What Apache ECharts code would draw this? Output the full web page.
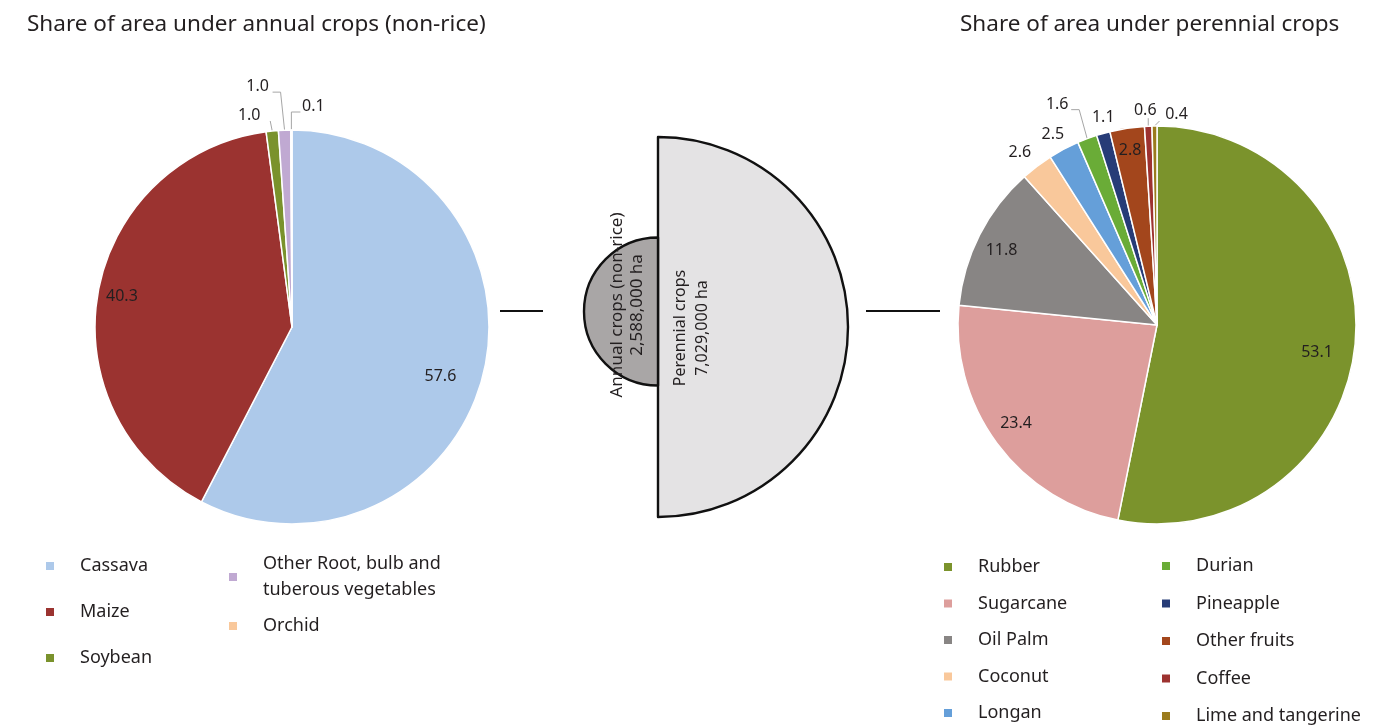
<!DOCTYPE html>
<html><head><meta charset="utf-8">
<script src="https://cdn.jsdelivr.net/npm/echarts@6/dist/echarts.min.js"></script>
<style>html,body{margin:0;padding:0;background:#fff}#c{width:1392px;height:726px}</style>
</head><body><div id="c"></div>
<script>
// ---- data ----
const annualNames = ['Cassava', 'Maize', 'Soybean', 'Other Root, bulb and tuberous vegetables', 'Orchid'];
const annualValues = [57.6, 40.3, 1.0, 1.0, 0.1];
const perennialNames = ['Rubber', 'Sugarcane', 'Oil Palm', 'Coconut', 'Longan', 'Durian', 'Pineapple', 'Other fruits', 'Coffee', 'Lime and tangerine'];
const perennialValues = [53.1, 23.4, 11.8, 2.6, 2.5, 1.6, 1.1, 2.8, 0.6, 0.4];
const totalLabels = ['Annual crops (non-rice)', 'Perennial crops'];
const totalAreas = ['2,588,000 ha', '7,029,000 ha'];
const titles = ['Share of area under annual crops (non-rice)', 'Share of area under perennial crops'];

// ---- styles ----
const annualColors = ['#adc9ea', '#9b3330', '#7a922c', '#c0a9d2', '#f9c89b'];
const perennialColors = ['#7b932c', '#dd9e9c', '#888584', '#f9c89b', '#659fd9', '#6aac37', '#273c77', '#a3461c', '#9d3230', '#9b7b1d'];
const FONT = 'Noto Sans';
const TXT = '#231f20';
// label placement relative to the slice's outer edge point; leader = guide-line shape relative to it
const annualLabelPos = [
  { off: [-43, 3] },
  { off: [24, 3] },
  { off: [-23, -16], leader: [[-2, -10], [0, 0]] },
  { off: [-27, -44], leader: [[-12, -38], [-4, -38], [0, 0]] },
  { off: [22, -24], leader: [[9, -18], [0, -18], [0, 0]] }];
const perennialLabelPos = [
  { off: [-38, 8] },
  { off: [19, -20] },
  { off: [22, 16] },
  { off: [-17, -14] },
  { off: [-11, -15] },
  { off: [-30, -34], leader: [[-16, -29], [-8, -29], [0, 0]] },
  { off: [0, -16] },
  { off: [3, 22] },
  { off: [-3, -16], leader: [[0, -8], [0, 0]] },
  { off: [22, -12], leader: [[5, -5], [0, 0]] }];

function pieSeries(names, values, colors, pos, center, R) {
  return {
    type: 'pie', center: center, radius: [0, R], startAngle: 90, clockwise: true,
    silent: true, animation: false, avoidLabelOverlap: false,
    itemStyle: { borderColor: '#fff', borderWidth: 1.5 },
    label: { show: true, position: 'outside', fontFamily: FONT, fontSize: 16, color: TXT,
      formatter: p => p.value.toFixed(1) },
    labelLine: { show: true, length: 10, length2: 4, lineStyle: { color: '#a6a6a6', width: 1 } },
    labelLayout: function (p) {
      const cfg = pos[p.dataIndex];
      if (!cfg || !p.labelLinePoints) return {};
      const e = p.labelLinePoints[0];
      const out = { x: e[0] + cfg.off[0], y: e[1] + cfg.off[1], align: 'center', verticalAlign: 'middle' };
      if (cfg.leader) out.labelLinePoints = cfg.leader.map(q => [e[0] + q[0], e[1] + q[1]]);
      return out;
    },
    data: names.map((n, i) => ({
      name: n, value: values[i], itemStyle: { color: colors[i] },
      labelLine: { show: !!pos[i].leader }
    }))
  };
}

function legend(names, left, top, gap, lh) {
  return {
    orient: 'vertical', left: left, top: top, itemGap: gap, itemWidth: 10, itemHeight: 10,
    padding: 0, icon: 'rect', selectedMode: false, data: names,
    formatter: n => n === 'Other Root, bulb and tuberous vegetables' ? 'Other Root, bulb and\ntuberous vegetables' : n,
    textStyle: { fontFamily: FONT, fontSize: 18, color: TXT, lineHeight: lh, padding: [0, 0, 0, 20] }
  };
}

const chart = echarts.init(document.getElementById('c'), null, { renderer: 'canvas' });
const semi = (i, center, r, clockwise, fill) => ({
  type: 'pie', center: center, radius: [0, r], startAngle: 90, clockwise: clockwise,
  silent: true, animation: false, label: { show: false }, labelLine: { show: false },
  data: [
    { name: totalLabels[i], value: 1, itemStyle: { color: fill, borderColor: '#111', borderWidth: 2.4 } },
    { name: totalLabels[i] + ' ', value: 1, itemStyle: { color: 'rgba(0,0,0,0)', borderWidth: 0 } }
  ]
});

chart.setOption({
  backgroundColor: '#fff',
  title: [
    { text: titles[0], left: 22, top: 8, textStyle: { fontFamily: FONT, fontSize: 22.5, fontWeight: 'normal', color: TXT } },
    { text: titles[1], left: 955, top: 8, textStyle: { fontFamily: FONT, fontSize: 22.5, fontWeight: 'normal', color: TXT } }
  ],
  legend: [
    legend(annualNames.slice(0, 3), 44, 556, 26, 20),
    legend(annualNames.slice(3), 227, 551, 10, 26),
    legend(perennialNames.slice(0, 5), 942, 557, 16.5, 20),
    legend(perennialNames.slice(5), 1160, 556, 17.5, 20)
  ],
  series: [
    pieSeries(annualNames, annualValues, annualColors, annualLabelPos, [292, 327], 197),
    pieSeries(perennialNames, perennialValues, perennialColors, perennialLabelPos, [1157, 325], 199),
    semi(1, [658, 327], 190, true, '#e4e3e4'),
    semi(0, [658, 311.5], 74, false, '#a9a6a6')
  ],
  graphic: [
    { type: 'line', shape: { x1: 500, y1: 311, x2: 543, y2: 311 }, style: { stroke: '#111', lineWidth: 2 } },
    { type: 'line', shape: { x1: 866, y1: 311, x2: 940, y2: 311 }, style: { stroke: '#111', lineWidth: 2 } },
    { type: 'text', x: 627, y: 305, rotation: Math.PI / 2, z: 100,
      style: { text: totalLabels[0] + '\n' + totalAreas[0], align: 'center', verticalAlign: 'middle',
        fontFamily: FONT, fontSize: 17, lineHeight: 20, fill: TXT } },
    { type: 'text', x: 691, y: 328, rotation: Math.PI / 2, z: 100,
      style: { text: totalLabels[1] + '\n' + totalAreas[1], align: 'center', verticalAlign: 'middle',
        fontFamily: FONT, fontSize: 16, lineHeight: 22, fill: TXT } }
  ]
});
</script></body></html>
